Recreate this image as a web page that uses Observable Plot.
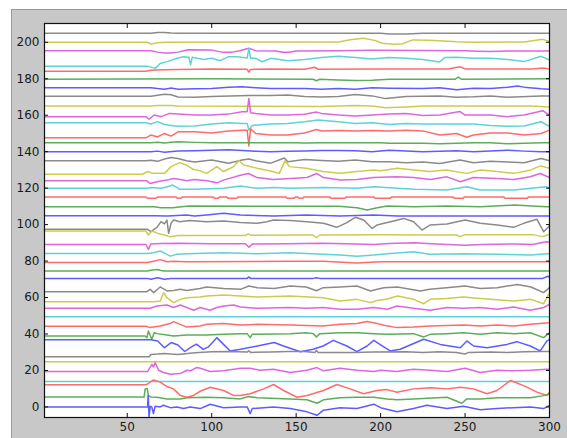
<!DOCTYPE html>
<html><head><meta charset="utf-8">
<script src="https://cdn.jsdelivr.net/npm/d3@7"></script>
<script src="https://cdn.jsdelivr.net/npm/@observablehq/plot@0.6"></script>
<style>
html,body{margin:0;padding:0;background:#fff;}
#fig{position:absolute;left:11px;top:9px;width:556px;height:429px;background:#c8c8c8;border-left:1px solid #9a9a9a;border-top:1px solid #9a9a9a;box-sizing:border-box;}
#chart{position:absolute;left:12px;top:10px;}
</style></head><body>
<div id="fig"></div><div id="chart"></div>
<script>
// tick values
const xTicks = [50, 100, 150, 200, 250, 300];
const yTicks = [0, 20, 40, 60, 80, 100, 120, 140, 160, 180, 200];

// MATLAB default colour order (b g r c m y k), as rendered
const colorOrder = ["#5c5cff", "#5aae5a", "#ff6a6a", "#5fd3d3", "#dd66dd", "#cccc4c", "#8a8a8a"];

// channel baselines, top (ch01) to bottom (ch42)
const baselines = [204.9, 200, 195.4, 186.8, 184.1, 179.7, 175.1, 170.4, 165, 159.2, 155.9, 147.6, 144.9, 140,
  135, 127.6, 124, 119.9, 115.1, 109.8, 104.9, 97.4, 96.5, 89.1, 84.2, 79.2, 74.5, 70.5,
  63.2, 57.7, 54.1, 49.5, 44.2, 38.9, 36.9, 27.5, 24.8, 19.4, 14, 12.1, 5.5, 0];

// each channel: pairs of [sample, deviation from baseline]
const ch01 = [1,0, 64,0, 68,0.5, 72,0.5, 76,0.2, 80,0, 200,0, 205,-0.3, 215,-0.3, 225,0, 300,0];
const ch02 = [1,0, 62,0, 64,-1.0, 68,-0.3, 72,0, 175,0.2, 182,1.4, 190,2.2, 197,0.9, 201,-0.5, 208,-1.1, 213,-0.8, 219,1.3, 228,1.1, 235,0.9, 245,0.3, 255,0, 285,0.2, 296,1.6, 300,0.5];
const ch03 = [1,0, 64,0, 68,-0.8, 72,-1.3, 76,-1.3, 80,-0.8, 86,0.5, 100,0.3, 106,-0.8, 112,-0.8, 116,-0.2, 122,1.3, 126,0, 138,-0.2, 142,-0.9, 146,-0.9, 150,-0.2, 175,0, 195,0.2, 250,0, 258,-0.3, 265,-0.5, 275,-0.2, 300,-0.2];
const ch04 = [1,0, 62.5,0, 66.6,-1.1, 69.5,1.6, 73.5,2.6, 79.4,4.4, 83.3,5.3, 86.5,5.0, 87.5,0.8, 88.5,5.0, 95,3.8, 100,4.4, 105,3.1, 110,5.3, 115,5.3, 121,4.6, 122,9.8, 123,4.4, 126,4.4, 130,2.5, 135,4.4, 145,3.1, 155,3.8, 165,4.9, 175,5.6, 185,4.9, 195,4.0, 205,4.9, 215,4.4, 225,3.8, 235,2.4, 238,4.8, 245,5.0, 255,4.4, 265,4.4, 275,3.8, 285,2.6, 295,5.5, 300,3.5];
const ch05 = [1,0, 61,0, 64,0.5, 72,0.9, 80,1.0, 100,1.3, 121,1.1, 122,-0.5, 123,1.0, 135,1.3, 155,1.1, 161,2.2, 163,1.1, 200,1.2, 240,1.3, 247,2.5, 250,1.3, 290,1.3, 296,1.8, 300,1.3];
const ch06 = [1,0, 100,0.3, 160,0, 162,-0.8, 164,0, 175,-0.4, 185,-0.7, 195,-0.5, 205,0, 244,0, 246,1.2, 248,0, 300,0.3];
const ch07 = [1,0, 64,0, 68,-0.5, 72,-0.8, 76,-0.2, 80,-0.8, 90,-0.6, 100,-0.5, 110,0.2, 118,0.5, 126,0, 135,-0.5, 155,-0.4, 165,-0.9, 175,-0.5, 185,-0.9, 195,0, 205,-0.3, 225,-0.5, 235,0, 245,-1.2, 255,-0.3, 265,-0.4, 275,0.2, 281,0.9, 285,0.3, 295,-0.6, 300,-0.9];
const ch08 = [1,0, 64,0, 68,0.6, 72,1.1, 76,0.8, 80,-0.4, 90,-0.6, 100,-0.2, 122,0.4, 135,0.4, 145,0.7, 155,-0.2, 165,-0.4, 175,-0.2, 185,0.9, 195,0.2, 203,-1.3, 215,-0.2, 235,0.2, 245,-0.5, 255,-0.3, 265,0.2, 275,-0.5, 295,0.2, 300,0.2];
const ch09 = [1,0, 64,0, 68,0.3, 76,0.3, 80,0, 165,-0.2, 185,0.3, 195,0, 203,-0.9, 215,-0.5, 225,0, 290,0, 297,-0.3, 300,-0.5];
const ch10 = [1,0, 61,0, 63,-1.3, 66,0.9, 70,0, 75,1.8, 80,1.5, 90,0.9, 100,0.9, 110,1.4, 118,2.7, 121,2.7, 122,10.0, 123,2.2, 126,1.8, 135,0.9, 145,0.9, 155,1.3, 162,2.5, 165,1.8, 175,0.9, 185,0.4, 195,0.9, 205,1.4, 215,1.8, 225,0.6, 235,0.9, 247,2.8, 250,0.9, 265,0.9, 275,0, 285,0.9, 296,3.3, 300,0.9];
const ch11 = [1,0, 61,0, 64,-0.7, 68,0.6, 72,-1.0, 76,-1.5, 80,-2.0, 90,-1.8, 100,-0.7, 110,0, 118,-0.4, 121,-0.4, 122,-4.0, 124,-1.5, 135,-0.7, 145,-0.4, 155,0.5, 163,1.5, 175,0.5, 185,-0.5, 195,0, 205,-1.0, 215,-0.4, 225,-0.7, 245,-0.7, 255,-0.7, 265,-1.5, 275,-2.0, 285,-1.8, 295,0.5, 300,-2.0];
const ch12 = [1,0, 61,0, 64,1.5, 68,0.5, 72,2.4, 76,0.9, 80,3.3, 90,3.3, 100,2.7, 110,3.7, 118,4.2, 121,4.2, 122,-4.5, 123,5.0, 126,2.4, 135,1.5, 145,1.5, 155,2.6, 162,4.6, 165,3.7, 175,4.0, 185,3.7, 195,4.0, 205,3.7, 215,4.2, 225,3.8, 235,1.5, 245,2.4, 251,0.3, 255,1.5, 265,2.7, 275,2.7, 285,1.5, 295,2.4, 300,4.2];
const ch13 = [1,0, 64,0, 68,0.3, 72,-0.2, 76,0.3, 80,0.5, 90,0.2, 100,0, 150,0, 155,-0.2, 165,0, 200,0, 205,-0.3, 225,-0.3, 235,-0.5, 245,-0.3, 255,0, 265,0, 275,-0.5, 285,-0.3, 295,0, 300,0];
const ch14 = [1,0, 64,0, 68,0.3, 72,-0.3, 80,0.4, 90,0.5, 100,0.8, 110,1.0, 118,0.6, 126,0.3, 135,0, 145,0.2, 155,0.4, 165,0.7, 175,0.7, 185,0.5, 195,0, 205,0.8, 215,0.4, 225,0, 235,0.3, 245,0.5, 255,0, 265,0.4, 275,0.8, 285,0.3, 295,0, 300,0];
const ch15 = [1,0, 61,0, 64,0.3, 68,-0.3, 72,1.0, 76,1.8, 80,1.3, 85,0, 90,-0.6, 100,0.4, 110,-1.3, 118,0.4, 122,1.0, 126,0, 135,-1.3, 143,1.5, 145,-0.5, 155,0.7, 165,0.2, 175,-0.2, 185,0.4, 195,-0.5, 205,-0.5, 215,-1.1, 225,-0.6, 235,-1.5, 247,0.4, 255,-1.1, 265,-0.3, 275,-0.6, 285,-1.1, 295,1.3, 300,0];
const ch16 = [1,0, 59,0, 62,1.5, 65,0.5, 72,0.5, 76,4.2, 81,6.4, 85,5.1, 89,2.7, 93,2.0, 97,0.5, 103,4.2, 107,1.5, 113,4.2, 116,7.5, 119,5.1, 127,3.3, 136,1.5, 140,0.5, 143.5,7.5, 146,4.2, 156,3.3, 166,1.5, 176,0.5, 186,1.5, 196,2.4, 200,2.0, 210,3.3, 220,2.4, 229,1.5, 239,2.4, 251,0.5, 259,2.4, 269,1.5, 279,0.5, 289,2.4, 294.5,4.6, 300,3.3];
const ch17 = [1,0, 61.6,0, 63.6,-1.5, 67.6,-0.5, 73.5,0.4, 77.4,1.3, 81.4,0.7, 85.3,0, 89.3,0.7, 97.2,0, 103,-1.1, 107,0.4, 116.9,3.1, 121.8,4.0, 126.8,1.8, 136.6,0.7, 146.5,1.3, 156.4,1.8, 162.3,4.0, 166.2,1.8, 176.1,0.4, 186,0.7, 195.8,1.8, 209.7,2.2, 219.5,1.8, 229.4,0.7, 239.3,2.2, 247.2,-0.5, 255,1.8, 268.9,1.3, 278.7,0.7, 288.6,2.2, 294.5,4.0, 300,1.8];
const ch18 = [1,0, 62,0, 64,0.5, 70,0, 74,0.9, 77,1.8, 81,-0.5, 89,-0.5, 107,0, 117,1.3, 127,0, 137,0.5, 147,0, 166,0.4, 186,0, 196,0.9, 210,0, 220,-0.5, 239,-0.9, 251,0.9, 259,-0.9, 279,-0.9, 289,0, 298,0.9, 300,0];
const ch19 = [1,0, 61,0, 62,-0.6, 67,-0.6, 68,0, 79,0, 79.5,-0.6, 82,-0.6, 82.5,0, 101,0, 101.5,-0.6, 104,-0.6, 104.5,0, 109,0, 109.5,-0.6, 115,-0.6, 115.5,0, 144,0, 144.5,-0.6, 149,-0.6, 149.5,0, 151,0, 151.5,-0.6, 154,-0.6, 154.5,0, 170,0, 170.5,-0.6, 179,-0.6, 179.5,0, 196,0, 196.5,-0.6, 206,-0.6, 206.5,0, 243,0, 243.5,-0.6, 249,-0.6, 249.5,0, 273,0, 273.5,-0.6, 287,-0.6, 287.5,0, 300,0];
const ch20 = [1,0, 66,0, 70,-0.5, 77,-0.5, 82,0, 87,0.4, 175,0.2, 186,-0.5, 192,-1.8, 198,-0.5, 204,0.4, 220,0, 239,0.4, 259,0, 279,0.9, 298,0, 300,0];
const ch21 = [1,0, 66,0, 74,-0.2, 85,0.4, 90,-0.2, 97,0.4, 107,1.3, 117,0.4, 137,-0.2, 156,0.4, 176,-0.2, 196,0.4, 210,-0.2, 300,-0.2];
const ch22 = [1,0, 62,0, 64,-1.3, 67.5,1.1, 70,4.2, 72,3.0, 73.5,5.1, 74.5,-2.2, 76,3.5, 77.5,5.1, 81,4.2, 87,4.8, 97,4.2, 107,4.6, 117,3.7, 127,3.3, 132.7,4.2, 136.6,5.1, 146.5,4.8, 156.4,4.2, 166.2,3.3, 174,1.1, 180,3.7, 185,6.6, 190,5.1, 195,0.5, 198,2.4, 202,3.3, 206,4.2, 213.6,6.0, 219.5,4.2, 224.5,-0.4, 229.4,2.4, 239.3,2.9, 250,5.1, 259,3.3, 269,2.4, 278.7,1.1, 284.7,3.3, 292.6,5.5, 296.5,-1.3, 300,1.8];
const ch23 = [1,0, 61,0, 62.5,-2.2, 64.5,0, 68,-1.3, 72,-2.2, 75,-3.1, 80,-2.5, 100,-2.5, 120,-2.5, 121.5,-1.6, 123,-2.3, 150,-2.2, 160,-2.2, 162,-3.7, 164,-2.2, 200,-2.0, 230,-2.2, 245,-2.2, 247,-3.1, 250,-2.0, 290,-2.0, 296,-3.1, 300,-1.8];
const ch24 = [1,0, 61,0, 62.5,-2.7, 64,0.3, 70,0.5, 80,0.7, 100,0.4, 120,0.4, 122,-1.5, 124,0.2, 145,0.4, 165,0.7, 186,0.2, 196,0, 205,0.5, 220,0.9, 230,0.4, 250,-0.4, 260,0, 280,0.3, 290,0, 298,1.5, 300,1.2];
const ch25 = [1,0, 62,0, 65.6,0.4, 69.5,1.3, 73.5,-0.5, 75.4,-1.5, 79.4,-0.5, 85.3,-0.2, 107,0.4, 127,-0.2, 146.5,0.4, 166,-0.5, 176,-0.9, 186,-1.5, 196,-0.9, 204,-0.2, 219.5,0.9, 229,-0.5, 249,-0.2, 269,-0.5, 289,-0.9, 298.5,-0.2, 300,-0.2];
const ch26 = [1,0, 62,0, 65.6,0.7, 69.5,1.6, 73.5,0.4, 77.4,0.7, 85,0.4, 146,0.7, 166,0.7, 186,-0.2, 200,0.4, 300,0.4];
const ch27 = [1,0, 62,0, 64,0.5, 68,0.9, 70,0.3, 72,0, 300,0];
const ch28 = [1,0, 62,0, 64,-0.5, 68,0.4, 72,-0.5, 76,0, 121,0, 122,0.8, 123,0, 160,0, 162,0.4, 164,0, 296,0, 299,1.2, 300,0.5];
const ch29 = [1,0, 61.6,0, 63.6,1.3, 65.6,-0.5, 69.5,2.6, 73.5,0.4, 77.4,0.7, 81.4,1.3, 85.3,0.7, 93,1.8, 97,2.6, 107,1.8, 117,1.3, 122,3.1, 127,2.2, 137,1.8, 146.5,3.1, 156,2.6, 162,0.5, 166,2.2, 176,2.6, 186,3.1, 194,0.4, 198,1.3, 202,2.2, 210,2.6, 223.5,0.4, 229,1.3, 239,2.2, 250,3.1, 259,1.8, 269,2.2, 281,4.0, 289,2.6, 296.5,-0.5, 300,2.2];
const ch30 = [1,0, 66,0, 69.5,0.4, 71.5,4.9, 73.5,2.2, 77.4,-0.5, 81.4,1.3, 85.3,2.2, 93,2.6, 97,3.1, 107,3.7, 117,3.1, 127,2.6, 146.5,3.1, 166,2.2, 176,0.4, 186,1.3, 194,-0.5, 198,0.7, 204,1.5, 210,3.1, 219.5,1.3, 225.5,-1.1, 229.4,1.3, 239,1.8, 249,2.6, 259,1.8, 279,0.4, 289,1.3, 296.5,-1.1, 300,4.9];
const ch31 = [1,0, 63.6,0, 67.6,1.3, 73.5,1.8, 77.4,0.4, 81.4,1.8, 85.3,0.4, 89.3,-1.1, 93.2,0.4, 99,-1.1, 103,0.4, 107,1.3, 113,1.8, 117,0.7, 127,0, 146.5,0.4, 156,0, 166,0.4, 176,-0.5, 186,-0.5, 196,0.4, 204,-0.5, 209.7,1.3, 219.5,0, 229.4,-1.1, 239.3,0.4, 249,0, 259,0.4, 269,-0.5, 278.7,0.7, 288.6,-1.1, 296.5,0.4, 300,2.2];
const ch32 = [1,0, 300,0];
const ch33 = [1,0, 61,0, 63.6,-0.7, 69.5,0.2, 75.4,1.5, 77.4,2.6, 81.4,1.1, 85.3,-0.4, 93,0.2, 97,1.1, 107,1.5, 117,0.7, 127,1.1, 146.5,0.7, 166,0.2, 176,1.1, 186,1.5, 192,2.6, 198,1.5, 202,0.6, 209.7,-0.7, 219.5,-0.4, 229,0.2, 249,0.7, 259,0.2, 269,0.7, 279,0.2, 288.6,1.1, 300,2.0];
const ch34 = [1,0, 60.5,0, 61.6,-0.9, 62.5,2.7, 64.5,-1.8, 66,1.8, 67.6,1.3, 73.5,0.5, 77.4,0, 85.3,0.5, 97,0.5, 107,0.9, 117,1.3, 121,1.3, 122.8,-0.9, 124,1.0, 127,0.9, 146.5,1.3, 156,1.8, 160,1.3, 162,-0.5, 164,1.3, 176,1.8, 186,1.8, 196,1.3, 203.7,0.9, 219.5,1.3, 225.5,-0.5, 229.4,0.9, 239.3,1.3, 249,1.8, 259,0.9, 269,1.8, 279,1.3, 288.6,1.8, 296.5,-0.9, 300,1.8];
const ch35 = [1,0, 62.7,0, 64,0, 68,-0.7, 72,-4.4, 76,-1.6, 80,-2.9, 84,-6.5, 88,-4.0, 91,-2.5, 95,-5.3, 98,-4.0, 103,1.1, 107,-2.6, 111,-6.2, 117,-5.3, 127,-3.5, 137,-1.6, 142.5,-3.5, 152.5,-6.6, 160,-5.3, 166,-3.5, 172,-0.4, 180,-3.5, 186,-6.6, 192,-3.5, 196,-0.4, 200,-2.9, 205.7,-6.2, 211.6,-5.3, 225.5,0.2, 235.3,-2.6, 247.2,-4.4, 251.1,-0.7, 255,-3.5, 263,-4.4, 274.8,-2.6, 280.7,-1.1, 288.6,-3.5, 294.5,-6.2, 298.5,-0.7, 300,0];
const ch36 = [1,0, 63,0, 64,1.3, 68,1.5, 72,1.8, 76,1.5, 80,1.3, 90,2.2, 100,2.7, 110,2.9, 121,2.6, 122,3.3, 123,2.4, 135,2.6, 145,2.9, 155,2.9, 161,2.4, 162,3.5, 163,2.4, 185,2.4, 195,2.6, 215,2.7, 225,2.4, 235,2.7, 245,2.4, 250,1.5, 252,2.4, 265,2.6, 275,2.4, 285,2.7, 295,2.9, 300,2.9];
const ch37 = [1,0, 300,0];
const ch38 = [1,0, 62,0, 64.6,4.0, 65.5,2.5, 66.5,4.9, 68.5,0.7, 71.5,-0.5, 75.4,-1.5, 81.3,-1.1, 85.3,0.7, 87.3,0.4, 91.2,2.2, 93.2,1.8, 99,0, 107,0.4, 117,1.8, 122.8,1.8, 128.7,0.7, 136.6,1.3, 146.5,-0.5, 156.4,0.7, 162.3,2.2, 166,0.4, 176,1.8, 186,0.7, 196,0, 200,0.7, 209.7,0, 219.5,1.3, 229.4,0.7, 239.3,0, 250,1.8, 259,-0.5, 268.9,0.7, 278.7,0.4, 288.6,0.7, 298.5,1.3, 300,1.3];
const ch39 = [1,0, 300,0];
const ch40 = [1,0, 60,0, 61.6,0.2, 65.6,2.7, 69.5,1.5, 73.5,-0.9, 77.4,-2.2, 81.4,-5.8, 85.3,-6.8, 89.3,-5.8, 93.2,-3.5, 99.1,-1.3, 107,-3.1, 112.9,-5.8, 117,-5.8, 122.8,-4.9, 130.7,-2.2, 136.6,0.2, 142.6,-3.1, 150.5,-6.8, 156.4,-5.8, 166.2,-3.1, 174.1,0.2, 182,-2.2, 189.9,-4.9, 197.8,-3.1, 203.7,-2.6, 209.7,-4.0, 219.5,-2.2, 229.4,-1.6, 239.3,-2.2, 247.2,-1.3, 255,-2.2, 263,-4.9, 268.9,-3.1, 276.8,2.4, 284.7,-0.4, 292.6,-4.0, 298.5,-5.8, 300,-4.0];
const ch41 = [1,0, 60,0, 60.6,4.4, 61.8,4.6, 62.6,0.5, 64,0, 67.6,-0.2, 73.5,-1.1, 81.4,-1.1, 85.3,-0.5, 97,-0.2, 107,-0.5, 117,-1.1, 121.8,0.2, 127,-0.5, 146.5,-1.1, 156.4,-1.6, 162.3,-3.5, 166.2,-1.6, 176,-0.5, 186,-0.2, 196,-0.2, 203.7,-1.1, 209.7,-1.6, 219.5,-1.1, 239.3,-0.2, 248.1,-3.5, 251,-1.1, 259,-1.1, 269,-0.5, 288.6,-0.5, 296.5,0.7, 300,1.6];
const ch42 = [1,0, 62,0, 62.4,6.4, 62.9,-5.5, 63.6,0.4, 64.5,0, 65.5,-3.7, 66.5,0.4, 69.5,0, 71.5,0.9, 75.4,-0.4, 79.4,0, 83.3,-0.9, 87.3,0, 93.2,-0.9, 99.1,1.5, 107,-0.4, 117,0, 121,0, 122.8,-3.7, 124,-0.9, 136.6,0, 146.5,-0.9, 156.4,-2.7, 162.3,-4.6, 166.2,-1.8, 176,-0.4, 186,-0.9, 196,1.5, 200,-0.4, 209.7,-2.7, 219.5,-0.9, 227.4,0.9, 239.3,-0.9, 249,0.4, 259,-1.5, 268.9,-0.9, 278.7,-0.4, 288.6,0, 296.5,-0.9, 300,0.9];

const channels = [ch01, ch02, ch03, ch04, ch05, ch06, ch07, ch08, ch09, ch10, ch11, ch12, ch13, ch14,
  ch15, ch16, ch17, ch18, ch19, ch20, ch21, ch22, ch23, ch24, ch25, ch26, ch27, ch28,
  ch29, ch30, ch31, ch32, ch33, ch34, ch35, ch36, ch37, ch38, ch39, ch40, ch41, ch42];

const rows = [];
channels.forEach((pairs, i) => {
  const color = colorOrder[(channels.length - 1 - i) % colorOrder.length];
  for (let k = 0; k < pairs.length; k += 2) {
    rows.push({ch: i, x: pairs[k], y: baselines[i] + pairs[k + 1], c: color});
  }
});

const chart = Plot.plot({
  width: 555,
  height: 428,
  marginLeft: 32,
  marginRight: 18,
  marginTop: 13,
  marginBottom: 21,
  x: {domain: [1, 300]},
  y: {domain: [-5.8, 210.3]},
  color: {type: "identity"},
  style: {background: "transparent", fontFamily: "DejaVu Sans", fontSize: "12px", color: "#1a1a1a"},
  marks: [
    Plot.frame({fill: "white"}),
    Plot.line(rows, {x: "x", y: "y", z: "ch", stroke: d => d.c, strokeWidth: 1.5, curve: "linear"}),
    Plot.axisX({ticks: xTicks, anchor: "bottom", tickSize: -4, tickPadding: 9, label: null, stroke: "#111"}),
    Plot.axisX({ticks: xTicks, anchor: "top", tickSize: -4, tickFormat: () => "", label: null, stroke: "#111"}),
    Plot.axisY({ticks: yTicks, anchor: "left", tickSize: -4, tickPadding: 9, label: null, stroke: "#111"}),
    Plot.axisY({ticks: yTicks, anchor: "right", tickSize: -4, tickFormat: () => "", label: null, stroke: "#111"}),
    Plot.frame({stroke: "#111", strokeWidth: 1.2})
  ]
});
document.getElementById("chart").appendChild(chart);
</script>
</body></html>
